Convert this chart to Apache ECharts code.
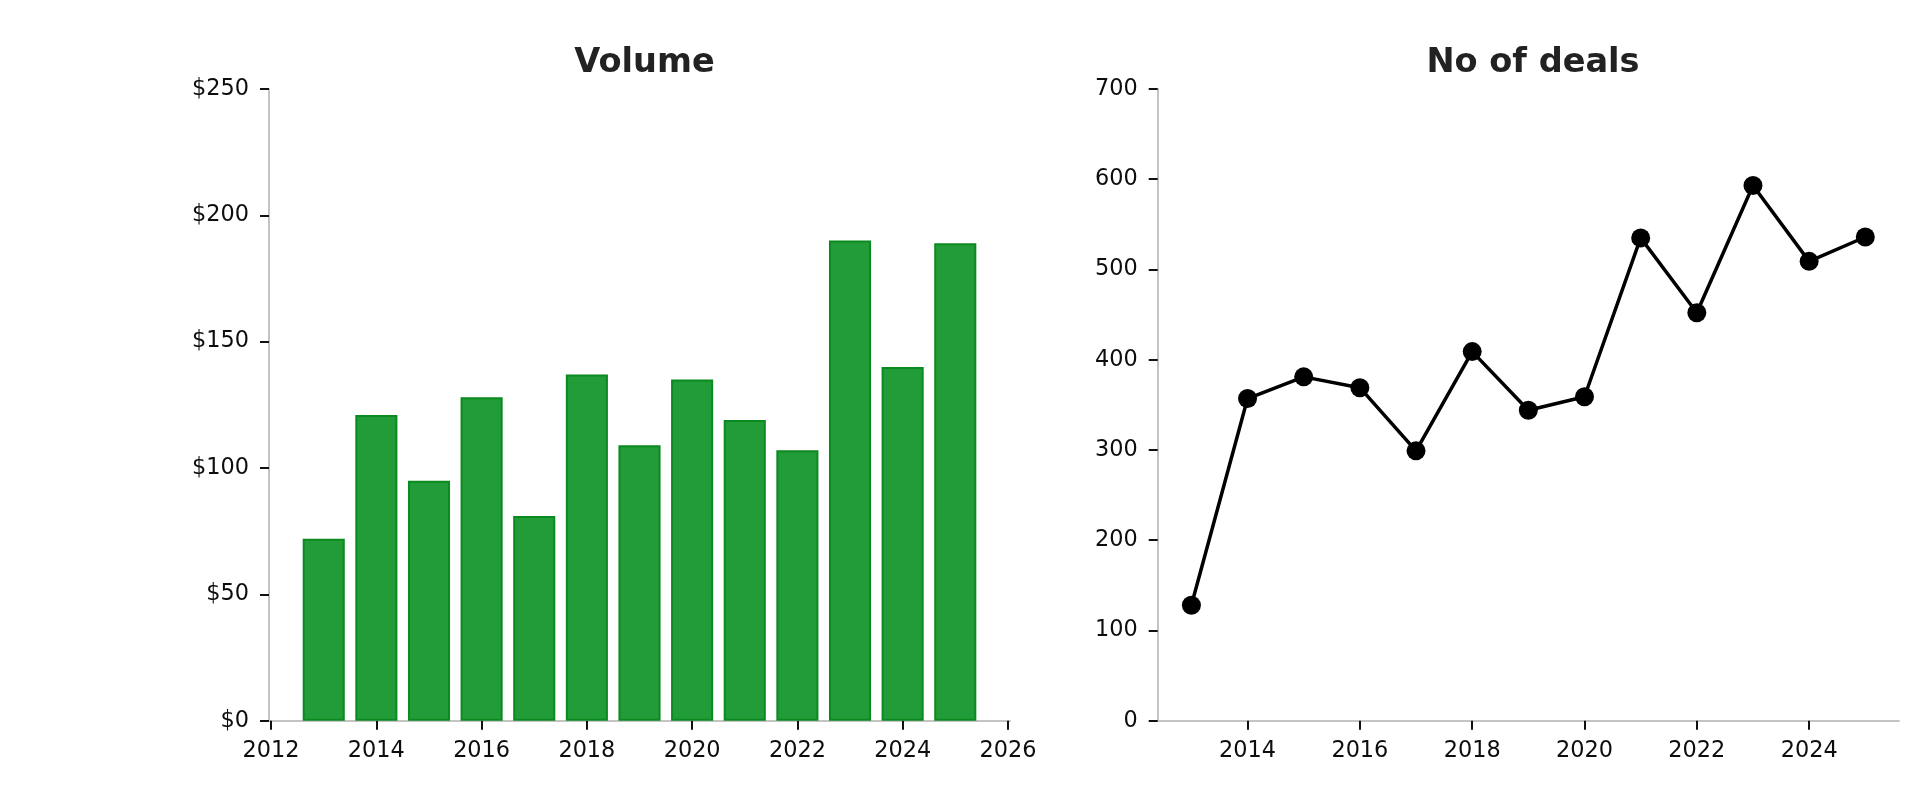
<!DOCTYPE html>
<html><head><meta charset="utf-8">
<script src="https://cdn.jsdelivr.net/npm/echarts@6/dist/echarts.min.js"></script>
<style>html,body{margin:0;padding:0;background:#fff}#c{width:1920px;height:805px}</style>
</head><body><div id="c"></div>
<script>
const years = [2013,2014,2015,2016,2017,2018,2019,2020,2021,2022,2023,2024,2025];
const volume = [72,121,95,128,81,137,109,135,119,107,190,140,189];
const deals = [128,357,381,369,299,409,344,359,535,452,593,509,536];
const volumeXTicks = [2012,2014,2016,2018,2020,2022,2024,2026];
const dealsXTicks = [2014,2016,2018,2020,2022,2024];

const FONT = 'DejaVu Sans';
const lbl = {fontFamily: FONT, fontSize: 22.4, color: '#0d0d0d'};
const spine = {show: true, onZero: false, lineStyle: {color: '#c4c4c4', width: 2}};
const tick = (extra) => Object.assign({show: true, inside: false, length: 9, lineStyle: {color: '#111', width: 2}}, extra || {});

const chart = echarts.init(document.getElementById('c'), null, {renderer: 'canvas'});
chart.setOption({
  backgroundColor: '#fff',
  animation: false,
  title: [
    {text: 'Volume', left: 639.5, top: 41, textAlign: 'center',
     textStyle: {fontFamily: FONT, fontSize: 33.6, fontWeight: 'bold', color: '#222'}},
    {text: 'No of deals', left: 1528, top: 41, textAlign: 'center',
     textStyle: {fontFamily: FONT, fontSize: 33.6, fontWeight: 'bold', color: '#222'}}
  ],
  grid: [
    {left: 269, right: 910, top: 89, bottom: 84.3, containLabel: false},
    {left: 1157.7, right: 21, top: 89, bottom: 84.3, containLabel: false}
  ],
  xAxis: [
    {gridIndex: 0, type: 'value', min: 2011.96, max: 2026.04,
     axisLine: spine, splitLine: {show: false},
     axisTick: tick({customValues: volumeXTicks}),
     axisLabel: Object.assign({customValues: volumeXTicks, margin: 19, formatter: v => String(v)}, lbl)},
    {gridIndex: 1, type: 'value', min: 2012.4, max: 2025.6,
     axisLine: spine, splitLine: {show: false},
     axisTick: tick({customValues: dealsXTicks}),
     axisLabel: Object.assign({customValues: dealsXTicks, margin: 19, formatter: v => String(v)}, lbl)}
  ],
  yAxis: [
    {gridIndex: 0, type: 'value', min: 0, max: 250, interval: 50,
     axisLine: spine, splitLine: {show: false}, axisTick: tick(),
     axisLabel: Object.assign({margin: 20, padding: [4, 0, 0, 0], formatter: v => '$' + v}, lbl)},
    {gridIndex: 1, type: 'value', min: 0, max: 700, interval: 100,
     axisLine: spine, splitLine: {show: false}, axisTick: tick(),
     axisLabel: Object.assign({margin: 20, padding: [4, 0, 0, 0]}, lbl)}
  ],
  series: [
    {type: 'bar', xAxisIndex: 0, yAxisIndex: 0, barWidth: '80%',
     data: years.map((y, i) => [y, volume[i]]),
     itemStyle: {color: '#229c38', borderColor: '#0b8a1f', borderWidth: 2}},
    {type: 'line', xAxisIndex: 1, yAxisIndex: 1,
     data: years.map((y, i) => [y, deals[i]]),
     symbol: 'circle', symbolSize: 19, showSymbol: true,
     lineStyle: {color: '#000', width: 3.5},
     itemStyle: {color: '#000'}}
  ]
});
</script></body></html>
